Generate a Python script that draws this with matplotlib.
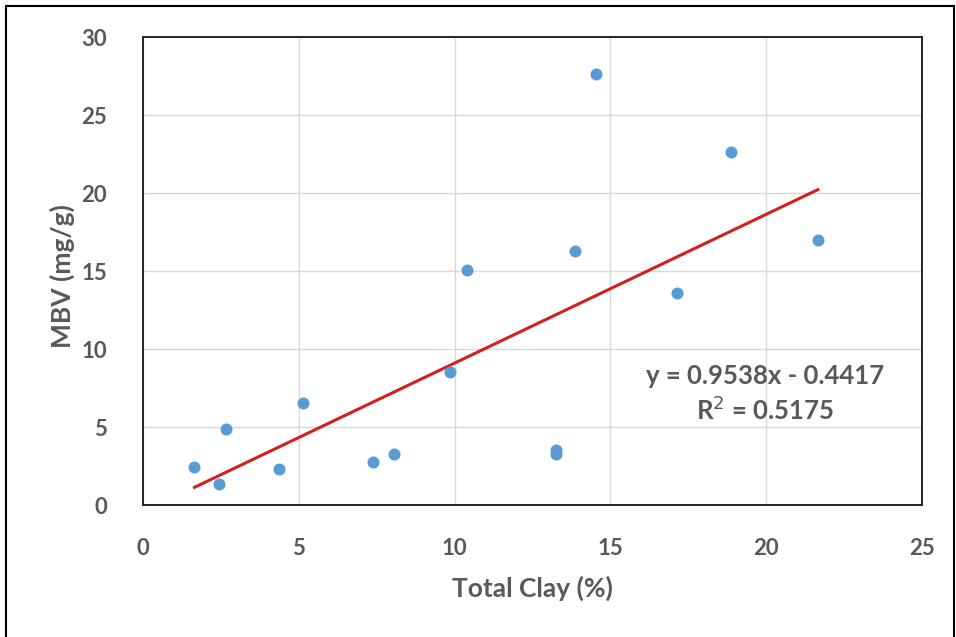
import matplotlib.pyplot as plt
from matplotlib.lines import Line2D
import numpy as np

# data
clay = [1.65, 2.44, 2.65, 4.35, 5.13, 7.37, 8.05, 9.85, 10.39,
        13.25, 13.27, 13.85, 14.54, 17.14, 18.86, 21.66]
mbv = [2.46, 1.33, 4.87, 2.29, 6.52, 2.78, 3.29, 8.53, 15.04,
       3.25, 3.50, 16.28, 27.6, 13.57, 22.6, 16.99]
slope = 0.9538
intercept = -0.4417
r_squared = 0.5175

x_ticks = [0, 5, 10, 15, 20, 25]
y_ticks = [0, 5, 10, 15, 20, 25, 30]

grey = "#595959"
plt.rcParams["font.family"] = ["Lato", "DejaVu Sans"]

W, H = 956, 637
fig = plt.figure(figsize=(W / 100, H / 100), dpi=100)
ax = fig.add_axes([0.1496, 0.2072, 0.8148, 0.7347])

ax.grid(True, color="#d9d9d9", linewidth=1)
ax.set_axisbelow(True)

ax.scatter(clay, mbv, s=75, color="#5b9bd5", zorder=3, linewidths=0)

fit_x = np.array([min(clay), max(clay)])
ax.plot(fit_x, slope * fit_x + intercept, color="#d0201f", linewidth=2.2, zorder=2)

ax.set_xlim(0, 25)
ax.set_ylim(0, 30)
ax.set_xticks(x_ticks)
ax.set_yticks(y_ticks)
ax.tick_params(length=0, labelsize=16, labelcolor=grey, pad=26)
ax.tick_params(axis="x", pad=24)
for lbl in ax.get_xticklabels() + ax.get_yticklabels():
    lbl.set_fontweight("bold")

for s in ax.spines.values():
    s.set_color("#262626")
    s.set_linewidth(1.4)

ax.set_xlabel("Total Clay (%)", fontsize=19, fontweight="bold", color=grey, labelpad=12)
# y label placed in figure pixels, next to the tick numbers
fig.text(62 / W, 1 - 276 / H, "MBV (mg/g)", rotation=90, fontsize=19,
         fontweight="bold", color=grey, ha="center", va="center")

ax.text(19.95, 8.3, f"y = {slope}x - {abs(intercept)}", fontsize=18.5,
        fontweight="bold", color=grey, ha="center", va="center")
ax.text(19.95, 6.1, f"R$^2$ = {r_squared}", fontsize=18.5,
        fontweight="bold", color=grey, ha="center", va="center")

# outer frame of the pasted chart
for xs, ys in [([6, 6], [0, H - 6]), ([6, 954], [H - 6, H - 6]), ([954, 954], [0, H - 6])]:
    fig.add_artist(Line2D([x / W for x in xs], [y / H for y in ys],
                          color="black", linewidth=1.5))

fig.savefig("out.png", dpi=100)
